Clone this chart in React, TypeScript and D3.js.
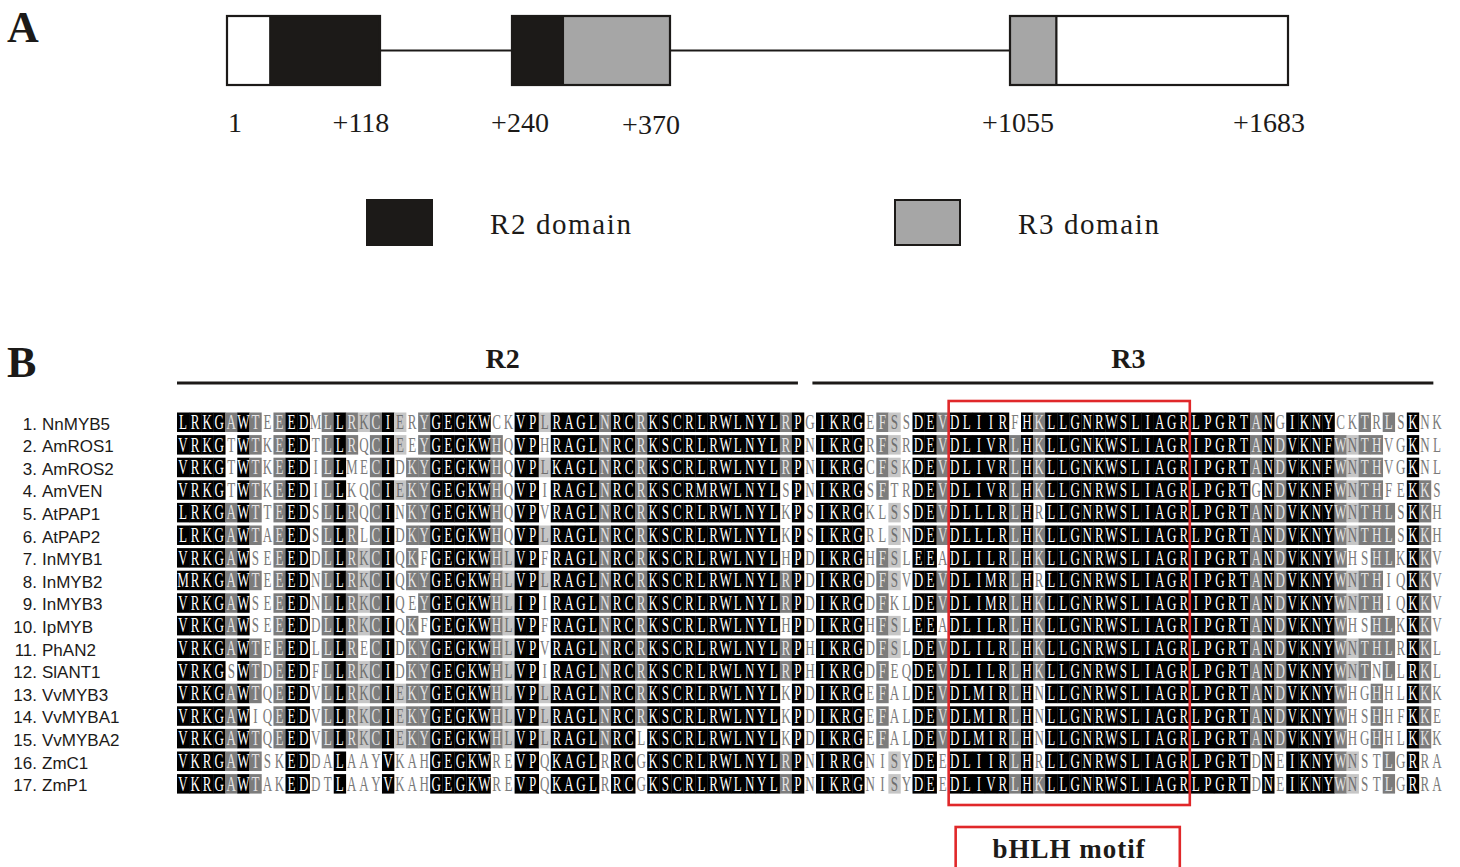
import React from 'react';
import * as d3 from 'd3';

// Panel A: gene structure
const genePositions = [1, 118, 240, 370, 1055, 1683];
const geneLabels = ['1', '+118', '+240', '+370', '+1055', '+1683'];
const exons = [[1, 118], [240, 370], [1055, 1683]];
const geneParts = [
  { start: 1, end: 34, kind: 'utr' },
  { start: 34, end: 118, kind: 'R2' },
  { start: 240, end: 282, kind: 'R2' },
  { start: 282, end: 370, kind: 'R3' },
  { start: 1055, end: 1160, kind: 'R3' },
  { start: 1160, end: 1683, kind: 'utr' },
];
const legendItems = [
  { kind: 'R2', label: 'R2 domain' },
  { kind: 'R3', label: 'R3 domain' },
];

// Panel B: alignment
const names = [
  'NnMYB5', 'AmROS1', 'AmROS2', 'AmVEN', 'AtPAP1', 'AtPAP2', 'InMYB1', 'InMYB2', 'InMYB3',
  'IpMYB', 'PhAN2', 'SlANT1', 'VvMYB3', 'VvMYBA1', 'VvMYBA2', 'ZmC1', 'ZmP1',
];
const sequences = [
  'LRKGAWTEEEDMLLRKCIERYGEGKWCKVPLRAGLNRCRKSCRLRWLNYLRPGIKRGEFSSDEVDLIIRFHKLLGNRWSLIAGRLPGRTANGIKNYCKTRLSKNK',
  'VRKGTWTKEEDTLLRQCIEEYGEGKWHQVPHRAGLNRCRKSCRLRWLNYLRPNIKRGRFSRDEVDLIVRLHKLLGNKWSLIAGRIPGRTANDVKNFWNTHVGKNL',
  'VRKGTWTKEEDILLMECIDKYGEGKWHQVPLKAGLNRCRKSCRLRWLNYLRPNIKRGCFSKDEVDLIVRLHKLLGNKWSLIAGRIPGRTANDVKNFWNTHVGKNL',
  'VRKGTWTKEEDILLKQCIEKYGEGKWHQVPIRAGLNRCRKSCRMRWLNYLSPNIKRGSFTRDEVDLIVRLHKLLGNRWSLIAGRLPGRTGNDVKNFWNTHFEKKS',
  'LRKGAWTTEEDSLLRQCINKYGEGKWHQVPVRAGLNRCRKSCRLRWLNYLKPSIKRGKLSSDEVDLLLRLHRLLGNRWSLIAGRLPGRTANDVKNYWNTHLSKKH',
  'LRKGAWTAEEDSLLRLCIDKYGEGKWHQVPLRAGLNRCRKSCRLRWLNYLKPSIKRGRLSNDEVDLLLRLHKLLGNRWSLIAGRLPGRTANDVKNYWNTHLSKKH',
  'VRKGAWSEEEDDLLRKCIQKFGEGKWHLVPFRAGLNRCRKSCRLRWLNYLHPDIKRGHFSLEEADLILRLHKLLGNRWSLIAGRIPGRTANDVKNYWHSHLKKKV',
  'MRKGAWTEEEDNLLRKCIQKYGEGKWHLVPLRAGLNRCRKSCRLRWLNYLRPDIKRGDFSVDEVDLIMRLHRLLGNRWSLIAGRIPGRTANDVKNYWNTHIQKKV',
  'VRKGAWSEEEDNLLRKCIQEYGEGKWHLIPIRAGLNRCRKSCRLRWLNYLRPDIKRGDFKLDEVDLIMRLHKLLGNRWSLIAGRIPGRTANDVKNYWNTHIQKKV',
  'VRKGAWSEEEDDLLRKCIQKFGEGKWHLVPFRAGLNRCRKSCRLRWLNYLHPDIKRGHFSLEEADLILRLHKLLGNRWSLIAGRIPGRTANDVKNYWHSHLKKKV',
  'VRKGAWTEEEDLLLRECIDKYGEGKWHLVPVRAGLNRCRKSCRLRWLNYLRPHIKRGDFSLDEVDLILRLHKLLGNRWSLIAGRLPGRTANDVKNYWNTHLRKKL',
  'VRKGSWTDEEDFLLRKCIDKYGEGKWHLVPIRAGLNRCRKSCRLRWLNYLRPHIKRGDFEQDEVDLILRLHKLLGNRWSLIAGRLPGRTANDVKNYWNTNLLRKL',
  'VRKGAWTQEEDVLLRKCIEKYGEGKWHLVPLRAGLNRCRKSCRLRWLNYLKPDIKRGEFALDEVDLMIRLHNLLGNRWSLIAGRLPGRTANDVKNYWHGHHLKKK',
  'VRKGAWIQEEDVLLRKCIEKYGEGKWHLVPLRAGLNRCRKSCRLRWLNYLKPDIKRGEFALDEVDLMIRLHNLLGNRWSLIAGRLPGRTANDVKNYWHSHHFKKE',
  'VRKGAWTQEEDVLLRKCIEKYGEGKWHLVPLRAGLNRCLKSCRLRWLNYLKPDIKRGEFALDEVDLMIRLHNLLGNRWSLIAGRLPGRTANDVKNYWHGHHLKKK',
  'VKRGAWTSKEDDALAAYVKAHGEGKWREVPQKAGLRRCGKSCRLRWLNYLRPNIRRGNISYDEEDLIIRLHRLLGNRWSLIAGRLPGRTDNEIKNYWNSTLGRRA',
  'VKRGAWTAKEDDTLAAYVKAHGEGKWREVPQKAGLRRCGKSCRLRWLNYLRPNIKRGNISYDEEDLIVRLHKLLGNRWSLIAGRLPGRTDNEIKNYWNSTLGRRA',
];
const repeatRegions = [
  { label: 'R2', from: 0, to: 51.5, labelAt: 27 },
  { label: 'R3', from: 52.7, to: 104.2, labelAt: 78.9 },
];
const motif = { label: 'bHLH motif', from: 64, to: 84 };

const simGroups = ['LIVM', 'KR', 'DE', 'FYW', 'ST', 'NQ'];
const groupOf = (c: string) => {
  const g = simGroups.find(s => s.includes(c));
  return g || c;
};

// shading level per cell: 3 = black, 2 = dark gray, 1 = light gray, 0 = none
function shading(seqs: string[]) {
  const n = seqs.length;
  const len = seqs[0].length;
  const levels = seqs.map(() => new Array(len).fill(0));
  for (let j = 0; j < len; j++) {
    const col = seqs.map(s => s[j]);
    const counts = d3.rollup(col, v => v.length, c => c);
    const cons = Array.from(counts).sort((a, b) => b[1] - a[1])[0][0];
    const g = groupOf(cons);
    const frac = col.filter(c => groupOf(c) === g).length / n;
    col.forEach((c, i) => {
      if (frac === 1) levels[i][j] = 3;
      else if (c === cons && frac >= 0.75) levels[i][j] = 2;
      else if (c === cons && frac >= 0.5) levels[i][j] = 1;
    });
  }
  return levels;
}

const bgColor = ['#ffffff', '#c6c6c6', '#7c7c7c', '#000000'];
const fgColor = ['#7a7a7a', '#6e6e6e', '#e4e4e4', '#ffffff'];

const serif = '"Liberation Serif", "Times New Roman", serif';
const sans = '"Liberation Sans", Arial, sans-serif';

export default function App() {
  const geneX = d3.scaleLinear().domain(genePositions).range([227, 380, 512, 670, 1010, 1288]);
  const boxTop = 16;
  const boxH = 69;
  const midY = boxTop + boxH / 2;
  const partFill = (k: string) => (k === 'R2' ? '#1c1a18' : k === 'R3' ? '#a6a6a6' : '#ffffff');

  const colX = d3.scaleLinear().domain([0, sequences[0].length]).range([177, 1443]);
  const rowY = d3.scaleLinear().domain([0, sequences.length]).range([412.5, 412.5 + 22.6 * sequences.length]);
  const cellW = colX(1) - colX(0);
  const cellH = 19.5;
  const levels = shading(sequences);

  const legendX = d3.scalePoint().domain(legendItems.map(d => d.kind)).range([367, 895]);

  return (
    <div style={{ position: 'absolute', left: 0, top: 0 }}>
      <svg width={1460} height={867} style={{ display: 'block', background: '#fff' }}>
        {/* Panel A */}
        <text x={7} y={42} fontFamily={serif} fontWeight="bold" fontSize={44} fill="#1c1a18">A</text>
        {exons.slice(0, -1).map((e, i) => (
          <line key={'in' + i} x1={geneX(e[1])} x2={geneX(exons[i + 1][0])} y1={midY} y2={midY} stroke="#1c1a18" strokeWidth={2} />
        ))}
        {geneParts.map((p, i) => (
          <rect key={'gp' + i} x={geneX(p.start)} y={boxTop} width={geneX(p.end) - geneX(p.start)} height={boxH}
            fill={partFill(p.kind)} stroke="#1c1a18" strokeWidth={p.kind === 'R2' ? 0 : 2} />
        ))}
        {exons.map((e, i) => (
          <rect key={'ex' + i} x={geneX(e[0])} y={boxTop} width={geneX(e[1]) - geneX(e[0])} height={boxH}
            fill="none" stroke="#1c1a18" strokeWidth={2.2} />
        ))}
        {genePositions.map((p, i) => (
          <text key={'gl' + i} x={geneX(p) + (i % 2 === 0 ? 8 : -19)} y={i === 3 ? 134 : 132} textAnchor="middle"
            fontFamily={serif} fontSize={28} fill="#1c1a18">{geneLabels[i]}</text>
        ))}
        {legendItems.map(d => (
          <g key={d.kind} transform={`translate(${legendX(d.kind)},200)`}>
            <rect x={0} y={0} width={65} height={45} fill={partFill(d.kind)} stroke="#1c1a18" strokeWidth={2} />
            <text x={123} y={34} fontFamily={serif} fontSize={29} letterSpacing={1.6} fill="#1c1a18">{d.label}</text>
          </g>
        ))}

        {/* Panel B */}
        <text x={7} y={377} fontFamily={serif} fontWeight="bold" fontSize={44} fill="#1c1a18">B</text>
        {repeatRegions.map(r => (
          <g key={r.label}>
            <text x={colX(r.labelAt)} y={368} textAnchor="middle" fontFamily={serif}
              fontWeight="bold" fontSize={28} fill="#1c1a18">{r.label}</text>
            <line x1={colX(r.from)} x2={colX(r.to)} y1={383} y2={383} stroke="#1c1a18" strokeWidth={3} />
          </g>
        ))}
        {names.map((nm, i) => (
          <g key={nm}>
            <text x={37} y={rowY(i) + 17} textAnchor="end" fontFamily={sans} fontSize={17} fill="#1c1a18">{`${i + 1}.`}</text>
            <text x={42} y={rowY(i) + 17} fontFamily={sans} fontSize={17} fill="#1c1a18">{nm}</text>
          </g>
        ))}
        {sequences.map((s, i) => (
          <g key={'s' + i}>
            {s.split('').map((c, j) => {
              const lv = levels[i][j];
              return lv > 0 ? (
                <rect key={'r' + j} x={colX(j)} y={rowY(i)} width={cellW + 0.3} height={cellH} fill={bgColor[lv]} />
              ) : null;
            })}
            {s.split('').map((c, j) => (
              <text key={'t' + j} transform={`translate(${colX(j) + cellW / 2},${rowY(i) + 16.5}) scale(0.64,1)`}
                textAnchor="middle" fontFamily={serif} fontSize={20.4} fill={fgColor[levels[i][j]]}>{c}</text>
            ))}
          </g>
        ))}
        <rect x={colX(motif.from)} y={401} width={colX(motif.to) - colX(motif.from)} height={404}
          fill="none" stroke="#e0282a" strokeWidth={2.6} />
        <rect x={colX(motif.from) + 7} y={827} width={colX(motif.to) - colX(motif.from) - 17} height={60}
          fill="none" stroke="#e0282a" strokeWidth={2.6} />
        <text x={(colX(motif.from) + colX(motif.to)) / 2} y={858} textAnchor="middle" fontFamily={serif}
          fontWeight="bold" fontSize={27} letterSpacing={1} fill="#1c1a18">{motif.label}</text>
      </svg>
    </div>
  );
}
